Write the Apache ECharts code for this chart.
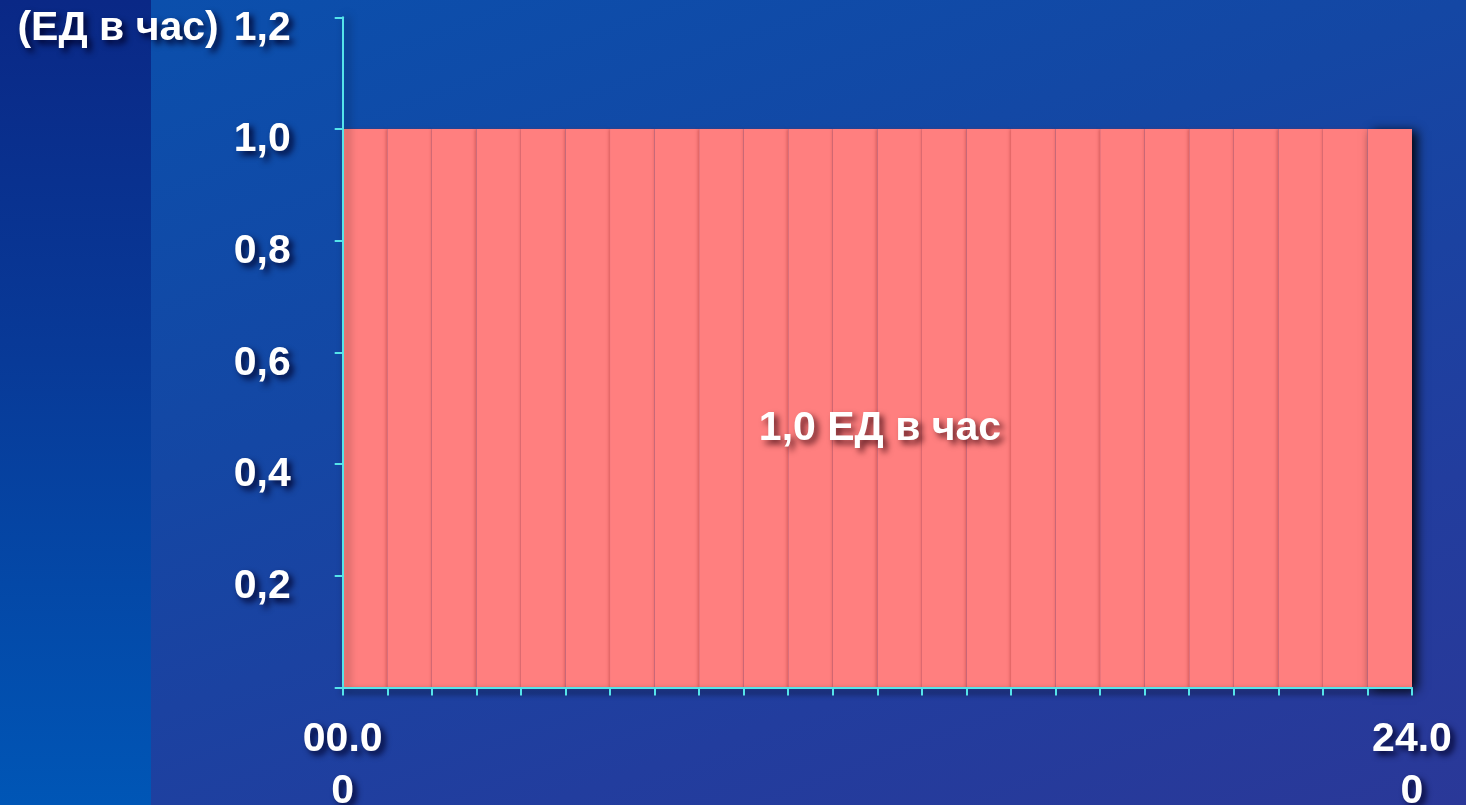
<!DOCTYPE html>
<html>
<head>
<meta charset="utf-8">
<script src="https://cdn.jsdelivr.net/npm/echarts@6/dist/echarts.min.js"></script>
<style>
  html, body { margin: 0; padding: 0; width: 1466px; height: 805px; overflow: hidden; }
  body {
    background: linear-gradient(160deg, #0a50ad 0%, #1447a4 40%, #223d9e 75%, #2a3898 100%);
    position: relative;
  }
  #strip {
    position: absolute; left: 0; top: 0; width: 151px; height: 805px;
    background: linear-gradient(180deg, #0a2886 0%, #083a98 45%, #0056b6 100%);
  }
  #chart { position: absolute; left: 0; top: 0; width: 1466px; height: 805px; }
</style>
</head>
<body>
<div id="strip"></div>
<div id="chart"></div>
<script>
// Hourly basal rate over a day: 24 one-hour blocks
const hours = ['0','1','2','3','4','5','6','7','8','9','10','11',
               '12','13','14','15','16','17','18','19','20','21','22','23'];
const rateValues = [1.0,1.0,1.0,1.0,1.0,1.0,1.0,1.0,1.0,1.0,1.0,1.0,
                    1.0,1.0,1.0,1.0,1.0,1.0,1.0,1.0,1.0,1.0,1.0,1.0];
const timeTickValues = [0, 24];
const timeTickLabels = ['00.00', '24.00'];
const unitName = '(ЕД в час)';
const centerText = '1,0 ЕД в час';

const FONT = '"Liberation Sans", Arial, sans-serif';
const AXIS = '#55e4ea';
const shadowText = {
  color: '#ffffff',
  fontFamily: FONT,
  fontWeight: 'bold',
  fontSize: 41,
  textShadowColor: 'rgba(0,0,40,0.9)',
  textShadowBlur: 6,
  textShadowOffsetX: 4,
  textShadowOffsetY: 4
};

const chart = echarts.init(document.getElementById('chart'), null, { renderer: 'canvas' });

const barData = rateValues.map((v, i) => {
  if (i === rateValues.length - 1) {
    return {
      value: v,
      itemStyle: {
        shadowColor: 'rgba(0,0,0,0.9)',
        shadowBlur: 10,
        shadowOffsetX: 5,
        shadowOffsetY: 2
      }
    };
  }
  return v;
});

chart.setOption({
  backgroundColor: 'transparent',
  animation: false,
  grid: {
    left: 342.7, right: 54, top: 17.3, bottom: 117.5,
    containLabel: false,
    outerBoundsMode: 'none'
  },
  xAxis: [
    {
      type: 'category',
      data: hours,
      boundaryGap: true,
      axisLine: {
        lineStyle: { color: AXIS, width: 2, shadowColor: 'rgba(0,0,0,0.9)', shadowBlur: 6, shadowOffsetY: 4 }
      },
      axisTick: { show: true, interval: 0, length: 8, lineStyle: { color: AXIS, width: 2 } },
      axisLabel: { show: false },
      splitLine: { show: false },
      z: 5
    },
    {
      type: 'value',
      position: 'bottom',
      min: 0,
      max: 24,
      interval: 24,
      axisLine: { show: false },
      axisTick: { show: false },
      splitLine: { show: false },
      axisLabel: Object.assign({}, shadowText, {
        margin: 26,
        lineHeight: 52,
        showMinLabel: true,
        showMaxLabel: true,
        formatter: v => {
          const s = timeTickLabels[timeTickValues.indexOf(v)] || '';
          return s.slice(0, 4) + '\n' + s.slice(4);
        }
      })
    }
  ],
  yAxis: {
    type: 'value',
    min: 0,
    max: 1.2,
    interval: 0.2,
    name: unitName,
    nameLocation: 'end',
    nameGap: -11,
    nameTextStyle: Object.assign({}, shadowText, {
      align: 'right',
      verticalAlign: 'middle',
      padding: [0, 124, 0, 0]
    }),
    axisLine: {
      show: true,
      lineStyle: { color: AXIS, width: 2, shadowColor: 'rgba(0,0,0,0.6)', shadowBlur: 8, shadowOffsetX: 4 }
    },
    axisTick: { show: true, length: 8, lineStyle: { color: AXIS, width: 2 } },
    splitLine: { show: false },
    axisLabel: Object.assign({}, shadowText, {
      margin: 52,
      verticalAlign: 'top',
      lineHeight: 22,
      formatter: v => (v === 0 ? '' : v.toFixed(1).replace('.', ','))
    }),
    z: 5
  },
  series: [
    {
      type: 'bar',
      data: barData,
      barWidth: '100%',
      barCategoryGap: 0,
      itemStyle: {
        color: '#ff7f7f',
        shadowColor: 'rgba(150,40,40,0.4)',
        shadowBlur: 3,
        shadowOffsetX: -1
      },
      emphasis: { disabled: true },
      z: 2
    }
  ],
  graphic: [
    {
      type: 'text',
      x: 880,
      y: 429,
      z: 10,
      style: Object.assign({}, shadowText, {
        text: centerText,
        fill: '#ffffff',
        align: 'center',
        verticalAlign: 'middle',
        font: 'bold 41px ' + FONT,
        textShadowColor: 'rgba(50,0,10,0.75)'
      })
    }
  ]
});
</script>
</body>
</html>
